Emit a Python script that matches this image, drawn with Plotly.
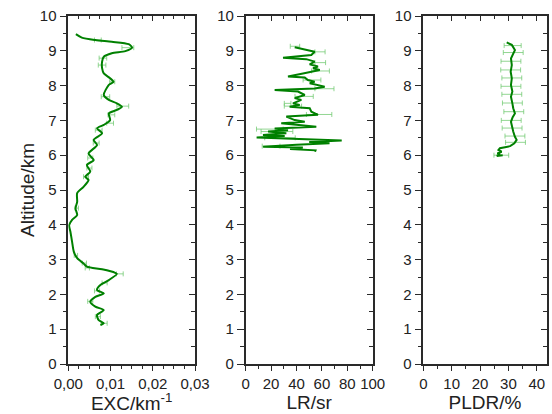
import plotly.graph_objects as go

# ---------------- data ----------------
exc_alt = [9.48, 9.38, 9.31, 9.26, 9.19, 9.09, 8.99, 8.93, 8.83, 8.69, 8.50, 8.35, 8.21, 8.11, 8.02,
           7.73, 7.59, 7.49, 7.39, 7.30, 7.20, 7.01, 6.87, 6.77, 6.63, 6.44, 6.29, 6.05, 5.86, 5.72,
           5.53, 5.38, 5.29, 5.09, 4.91, 4.66, 4.47, 4.28, 4.14, 3.99, 3.80, 3.51, 3.23, 3.04, 2.89,
           2.80, 2.72, 2.62, 2.59, 2.41, 2.27, 2.13, 2.03, 1.93, 1.79, 1.65, 1.55, 1.41, 1.26, 1.17, 1.12]
exc_val = [0.0018, 0.0032, 0.0064, 0.0103, 0.0143, 0.0151, 0.0135, 0.0103, 0.0084, 0.0080, 0.0080,
           0.0084, 0.0099, 0.0107, 0.0096, 0.0084, 0.0096, 0.0115, 0.0127, 0.0115, 0.0096, 0.0099,
           0.0084, 0.0068, 0.0080, 0.0060, 0.0068, 0.0048, 0.0060, 0.0044, 0.0052, 0.0040, 0.0048,
           0.0036, 0.0021, 0.0021, 0.0017, 0.0021, 0.0009, 0.0002, 0.0005, 0.0009, 0.0013, 0.0021,
           0.0036, 0.0044, 0.0080, 0.0111, 0.0115, 0.0096, 0.0076, 0.0068, 0.0084, 0.0064, 0.0052,
           0.0064, 0.0084, 0.0068, 0.0072, 0.0084, 0.0076]
exc_err_alt = [9.31, 9.09, 8.79, 8.59, 8.11, 7.68, 7.41, 7.16, 6.92, 6.72, 6.35, 5.92, 5.63, 5.38,
               4.48, 3.12, 2.90, 2.76, 2.59, 2.33, 2.10, 1.80, 1.36, 1.17]
exc_err_val = [0.0070, 0.0141, 0.0082, 0.0080, 0.0104, 0.0088, 0.0129, 0.0102, 0.0099, 0.0072,
               0.0066, 0.0052, 0.0050, 0.0042, 0.0020, 0.0018, 0.0038, 0.0045, 0.0122, 0.0086,
               0.0068, 0.0052, 0.0070, 0.0085]
exc_err = [0.0008, 0.0014, 0.0009, 0.0009, 0.0006, 0.0010, 0.0014, 0.0008, 0.0008, 0.0008,
           0.0007, 0.0006, 0.0006, 0.0006, 0.0004, 0.0004, 0.0005, 0.0005, 0.0008, 0.0006,
           0.0006, 0.0006, 0.0006, 0.0007]

lr_alt = [9.10, 8.99, 8.97, 8.88, 8.80, 8.76, 8.69, 8.61, 8.55, 8.50, 8.45, 8.35, 8.26, 8.23, 8.16,
          8.11, 8.07, 7.97, 7.92, 7.87, 7.83, 7.73, 7.64, 7.59, 7.49, 7.44, 7.39, 7.35, 7.25, 7.16,
          7.11, 7.01, 6.96, 6.92, 6.82, 6.77, 6.72, 6.68, 6.63, 6.58, 6.55, 6.51, 6.47, 6.42, 6.38,
          6.34, 6.30, 6.24, 6.22, 6.18, 6.14, 6.10]
lr_val = [38.6, 50.4, 54.3, 51.7, 29.4, 47.7, 54.3, 50.4, 56.9, 53.0, 58.3, 45.1, 33.3, 46.5, 49.0,
          54.3, 50.4, 62.2, 54.3, 22.8, 41.2, 46.5, 38.6, 43.8, 37.2, 42.5, 34.6, 50.4, 51.7, 56.9,
          32.0, 38.6, 46.5, 28.0, 55.6, 22.8, 33.3, 17.6, 32.0, 13.6, 30.7, 8.6, 45.0, 75.6, 50.0,
          66.0, 40.0, 13.7, 45.0, 34.9, 55.0, 54.6]
lr_err_alt = [9.13, 8.97, 8.66, 8.42, 8.16, 7.91, 7.69, 7.49, 7.41, 7.17, 6.75, 6.68, 6.50, 6.26]
lr_err_val = [38.8, 58.5, 58.7, 58.9, 52.2, 62.0, 46.0, 33.0, 37.2, 57.8, 19.0, 24.6, 27.0, 20.0]
lr_err = [3.7, 4.0, 4.2, 7.0, 7.0, 7.5, 7.2, 2.6, 6.8, 10.0, 10.5, 12.5, 12.0, 7.0]

pl_alt = [9.24, 9.17, 9.02, 8.91, 8.78, 8.59, 8.40, 8.21, 8.02, 7.83, 7.68, 7.49, 7.35, 7.20, 7.09,
          6.96, 6.82, 6.68, 6.53, 6.44, 6.34, 6.26, 6.23, 6.20, 6.15, 6.10, 6.05, 6.03, 5.98, 6.00]
pl_val = [29.4, 31.2, 32.3, 31.7, 30.9, 31.2, 30.8, 31.2, 30.9, 31.4, 30.9, 31.4, 31.7, 32.3, 31.5,
          30.9, 31.2, 31.7, 32.3, 32.9, 32.1, 30.6, 28.8, 27.0, 26.5, 27.6, 26.1, 27.0, 25.9, 28.0]
pl_err_alt = [9.15, 8.95, 8.70, 8.45, 8.22, 7.98, 7.75, 7.50, 7.25, 7.00, 6.78, 6.55, 6.37, 6.00]
pl_err_val = [31.5, 31.7, 30.9, 30.8, 31.2, 30.9, 31.2, 31.4, 31.9, 31.0, 31.3, 32.3, 32.5, 27.5]
pl_err = [3.0, 3.5, 3.5, 3.5, 3.5, 3.5, 3.5, 3.5, 3.5, 3.5, 3.5, 3.5, 3.5, 2.6]

x_titles = ["EXC/km<sup>-1</sup>", "LR/sr", "PLDR/%"]
y_title = "Altitude/km"

# ---------------- style ----------------
W, H = 552, 414
LINE = "rgb(0,128,0)"
ERR = "rgba(110,200,110,0.75)"
AX = "#2a2a2a"
FONT = "Liberation Sans, Arial, sans-serif"
TICKF = dict(size=15, family=FONT, color="#222")
TITLEF = dict(size=19, family=FONT, color="#222")

xpix = [(68.3, 195.0), (245.7, 372.7), (423.3, 546.7)]
ytop, ybot = 16.0, 364.0
ydom = [(H - ybot) / H, (H - ytop) / H]

fig = go.Figure()

panels = [
    (exc_alt, exc_val, exc_err_alt, exc_err_val, exc_err, "spline"),
    (lr_alt, lr_val, lr_err_alt, lr_err_val, lr_err, "linear"),
    (pl_alt, pl_val, pl_err_alt, pl_err_val, pl_err, "linear"),
]
for i, (al, v, ea, ev, ee, shape) in enumerate(panels):
    xa = "x" if i == 0 else f"x{i+1}"
    ya = "y" if i == 0 else f"y{i+1}"
    fig.add_trace(go.Scatter(
        x=ev, y=ea, mode="markers", xaxis=xa, yaxis=ya,
        marker=dict(size=1, color="rgba(0,0,0,0)"),
        error_x=dict(type="data", array=ee, color=ERR, thickness=1, width=2.5),
        showlegend=False, hoverinfo="skip"))
    fig.add_trace(go.Scatter(
        x=v, y=al, mode="lines", xaxis=xa, yaxis=ya,
        line=dict(color=LINE, width=2, shape=shape, smoothing=0.7),
        showlegend=False))
    # dummy trace for overlay (top/right) axes
    fig.add_trace(go.Scatter(x=[None], y=[None], xaxis=f"x{i+4}", yaxis=f"y{i+4}",
                             showlegend=False, hoverinfo="skip"))

xranges = [[0, 0.03], [0, 100], [0, 43.5]]
xdt = [0.01, 20, 10]
xminor = [0.0025, 10, 5]
layout = dict(
    width=W, height=H, margin=dict(l=0, r=0, t=0, b=0, autoexpand=False),
    paper_bgcolor="white", plot_bgcolor="white",
    separators=",.", showlegend=False,
    font=dict(family=FONT, size=13, color="#222"),
)
for i in range(3):
    k = "" if i == 0 else str(i + 1)
    ko = str(i + 4)
    dom = [xpix[i][0] / W, xpix[i][1] / W]
    xfmt = ".2f" if i == 0 else ""
    layout[f"xaxis{k}"] = dict(
        domain=dom, range=xranges[i], anchor=f"y{k}", showgrid=False, zeroline=False,
        showline=True, linecolor=AX, linewidth=1.5, automargin=False,
        ticklabeloverflow="allow",
        ticks="outside", ticklen=5, tickwidth=1.3, tickcolor=AX,
        tick0=0, dtick=xdt[i], tickformat=xfmt, tickfont=TICKF,
        minor=dict(ticks="outside", ticklen=3, dtick=xminor[i], tick0=0, tickcolor=AX, tickwidth=1.2),
        title=dict(text=x_titles[i], font=TITLEF, standoff=0),
        fixedrange=True)
    ydict = dict(
        domain=ydom, range=[0, 10], anchor=f"x{k}", showgrid=False, zeroline=False,
        showline=True, linecolor=AX, linewidth=1.5, automargin=False,
        ticklabeloverflow="allow",
        ticks="outside", ticklen=7, tickwidth=1.3, tickcolor=AX,
        tick0=0, dtick=1, tickfont=TICKF,
        minor=dict(ticks="outside", ticklen=4, dtick=0.5, tick0=0, tickcolor=AX, tickwidth=1.2),
        fixedrange=True)
    if i == 0:
        ydict["title"] = dict(text=y_title, font=TITLEF, standoff=0)
    layout[f"yaxis{k}"] = ydict
    # overlay axes: top and right, inward ticks
    layout[f"xaxis{ko}"] = dict(
        domain=dom, range=xranges[i], overlaying=f"x{k}", side="top", anchor=f"y{k}",
        showgrid=False, zeroline=False, showline=True, linecolor=AX, linewidth=1.5,
        automargin=False,
        ticks="inside", ticklen=5, tickwidth=1.3, tickcolor=AX, tick0=0, dtick=xdt[i],
        showticklabels=False,
        minor=dict(ticks="inside", ticklen=3, dtick=xminor[i], tick0=0, tickcolor=AX, tickwidth=1.2),
        fixedrange=True)
    layout[f"yaxis{ko}"] = dict(
        domain=ydom, range=[0, 10], overlaying=f"y{k}", side="right", anchor=f"x{k}",
        showgrid=False, zeroline=False, showline=True, linecolor=AX, linewidth=1.5,
        automargin=False,
        ticks="inside", ticklen=6, tickwidth=1.3, tickcolor=AX, tick0=0, dtick=1,
        showticklabels=False,
        minor=dict(ticks="inside", ticklen=4, dtick=0.5, tick0=0, tickcolor=AX, tickwidth=1.2),
        fixedrange=True)

fig.update_layout(**layout)
# remove the browser's default 8px body margin so the 552x414 figure fills the window exactly
fig.write_html("out.html", config={"displayModeBar": False},
               post_script="document.body.style.margin='0';")
